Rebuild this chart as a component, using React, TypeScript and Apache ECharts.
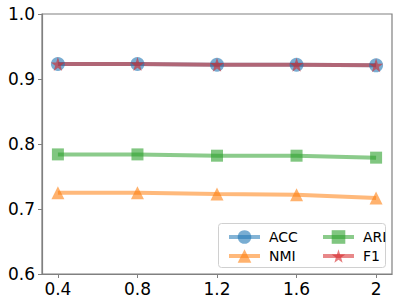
import React, { useEffect, useRef } from "react";
import * as echarts from "echarts";

const xValues = [0.4, 0.8, 1.2, 1.6, 2];
const accValues = [0.923, 0.923, 0.922, 0.922, 0.921];
const nmiValues = [0.725, 0.725, 0.723, 0.722, 0.717];
const ariValues = [0.784, 0.784, 0.782, 0.782, 0.779];
const f1Values = [0.923, 0.923, 0.922, 0.922, 0.921];
const yTicks = [0.6, 0.7, 0.8, 0.9, 1.0];

const FONT = "DejaVu Sans";
const STAR = "path://M50,0 L61.8,35.1 L98.8,35.1 L68.9,56.9 L79.4,91.9 L50,70.5 L20.6,91.9 L31.1,56.9 L1.2,35.1 L38.2,35.1 Z";

function mk(name: string, vals: number[], color: string, symbol: string, size: number) {
  return {
    name,
    type: "line",
    data: xValues.map((x, i) => [x, vals[i]]),
    symbol,
    symbolSize: size,
    itemStyle: { color, opacity: 0.6 },
    lineStyle: { color, width: 4, opacity: 0.55 },
    emphasis: { disabled: true },
  };
}

export default function App() {
  const ref = useRef<HTMLDivElement>(null);
  useEffect(() => {
    const chart = echarts.init(ref.current!, null, { renderer: "svg" });
    const legendCommon = {
      orient: "vertical",
      itemWidth: 31,
      itemHeight: 17,
      itemGap: 5,
      lineStyle: { width: 4 },
      textStyle: { fontFamily: FONT, fontSize: 14, color: "#000", padding: [0, 0, 0, 4] },
      selectedMode: false,
    };
    chart.setOption({
      animation: false,
      backgroundColor: "#fff",
      grid: { left: 42, right: 7, top: 14, bottom: 32, containLabel: false },
      xAxis: {
        type: "value",
        min: 0.32,
        max: 2.08,
        splitLine: { show: false },
        axisLine: { show: true, lineStyle: { color: "#808080", width: 1.2 } },
        axisTick: { show: true, length: 4, customValues: xValues, lineStyle: { color: "#808080" } },
        axisLabel: {
          customValues: xValues,
          fontFamily: FONT,
          fontSize: 17,
          color: "#000",
          margin: 6,
          formatter: (v: number) => String(v),
        },
      },
      yAxis: {
        type: "value",
        min: 0.6,
        max: 1.0,
        interval: 0.1,
        splitLine: { show: false },
        axisLine: { show: true, lineStyle: { color: "#808080", width: 1.2 } },
        axisTick: { show: true, length: 4, customValues: yTicks, lineStyle: { color: "#808080" } },
        axisLabel: {
          customValues: yTicks,
          fontFamily: FONT,
          fontSize: 17,
          color: "#000",
          margin: 7,
          formatter: (v: number) => v.toFixed(1),
        },
      },
      graphic: [
        {
          type: "rect",
          shape: { x: 42, y: 14, width: 350, height: 260 },
          style: { fill: "none", stroke: "#808080", lineWidth: 1.2 },
          z: 0,
          silent: true,
        },
        {
          type: "rect",
          shape: { x: 218.5, y: 223.5, width: 167, height: 44, r: 3 },
          style: { fill: "rgba(255,255,255,0.8)", stroke: "#d0d0d0", lineWidth: 1 },
          z: 5,
          silent: true,
        },
      ],
      legend: [
        { ...legendCommon, left: 222, top: 225, data: ["ACC", "NMI"], z: 10 },
        { ...legendCommon, left: 316, top: 225, data: ["ARI", "F1"], z: 10 },
      ],
      series: [
        mk("ACC", accValues, "#1f77b4", "circle", 14),
        mk("NMI", nmiValues, "#ff7f0e", "triangle", 13),
        mk("ARI", ariValues, "#2ca02c", "rect", 12),
        mk("F1", f1Values, "#d62728", STAR, 14),
      ],
    });
    return () => chart.dispose();
  }, []);
  return <div ref={ref} style={{ width: 399, height: 306, position: "absolute", left: 0, top: 0 }} />;
}
